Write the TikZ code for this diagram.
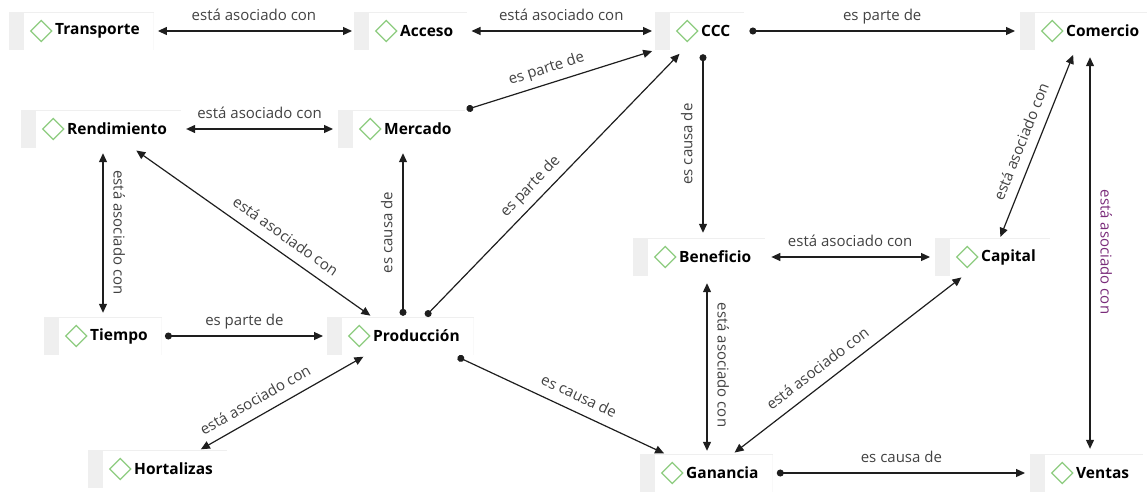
\documentclass[tikz,border=0pt]{standalone}
\usepackage{fontspec}
\setmainfont{Open Sans}
\usepackage{xcolor}
\usetikzlibrary{arrows.meta}

\definecolor{stripegray}{HTML}{EFEFEF}
\definecolor{diamondgreen}{HTML}{8DCC7F}
\definecolor{labelgray}{HTML}{424242}
\definecolor{labelpurple}{HTML}{7A2C7A}
\definecolor{linkgray}{HTML}{1E1E1E}

\begin{document}
\begin{tikzpicture}[x=1pt, y=-1pt, >={Triangle[length=9pt,width=8pt]},
	concept/.style={rectangle, anchor=west, fill=stripegray, minimum height=38pt,
		inner xsep=14pt, inner ysep=0pt, text=black,
		font=\bfseries\fontsize{15.5}{17}\selectfont,
		path picture={
			\fill[white] ([xshift=15pt,yshift=0.5pt]path picture bounding box.south west)
			rectangle ([yshift=-0.5pt]path picture bounding box.north east);
			\draw[diamondgreen, line width=1.3pt] ([xshift=32pt]path picture bounding box.west)
			+(-10.5pt,0) -- +(0,10.5pt) -- +(10.5pt,0) -- +(0,-10.5pt) -- cycle;}},
	link/.style={draw=linkgray, line width=1.2pt, shorten >=4pt, shorten <=4pt},
	dotted link/.style={link, arrows={Circle[length=7pt]-Triangle[length=9pt,width=8pt]}},
	lbl/.style={font=\fontsize{15}{17}\selectfont, text=labelgray, anchor=south,
		inner xsep=0pt, inner ysep=10pt, text depth=0pt}]
	\useasboundingbox (0,0) rectangle (1147,493);

	% concepts
	\node[concept] (transporte) at (9,31) {\hspace*{32pt}Transporte};
	\node[concept] (acceso) at (354,31) {\hspace*{32pt}Acceso};
	\node[concept] (ccc) at (655,31) {\hspace*{32pt}CCC};
	\node[concept] (comercio) at (1020,31) {\hspace*{32pt}Comercio};
	\node[concept] (rendimiento) at (21,129) {\hspace*{32pt}Rendimiento};
	\node[concept] (mercado) at (338,129) {\hspace*{32pt}Mercado};
	\node[concept] (tiempo) at (44,336) {\hspace*{32pt}Tiempo};
	\node[concept] (produccion) at (327,336) {\hspace*{32pt}Producción};
	\node[concept] (hortalizas) at (88,469) {\hspace*{32pt}Hortalizas};
	\node[concept] (beneficio) at (633,257) {\hspace*{32pt}Beneficio};
	\node[concept] (capital) at (935,257) {\hspace*{32pt}Capital};
	\node[concept] (ganancia) at (640,473) {\hspace*{32pt}Ganancia};
	\node[concept] (ventas) at (1030,473) {\hspace*{32pt}Ventas};

	% top row
	\draw[link, <->, shorten >=2pt] (transporte.east) -- (acceso.west)
		node[lbl, midway] {está asociado con};
	\draw[link, <->, shorten >=3pt] (acceso.east) -- (ccc.west)
		node[lbl, midway] {está asociado con};
	\draw[dotted link, shorten <=5pt, shorten >=5pt] (ccc.east) -- (comercio.west)
		node[lbl, midway] {es parte de};

	% left part
	\draw[link, <->, shorten <=5pt, shorten >=5pt] (rendimiento.east) -- (mercado.west)
		node[lbl, midway] {está asociado con};
	\draw[dotted link, shorten <=1pt, shorten >=3pt] (mercado.north east) -- (ccc.south west)
		node[lbl, sloped, pos=0.45] {es parte de};
	\draw[dotted link, shorten <=1pt, shorten >=5pt] ([xshift=98pt]produccion.north west)
		-- ([xshift=28pt]ccc.south west)
		node[lbl, sloped, pos=0.45] {es parte de};
	\draw[dotted link, shorten <=1pt, shorten >=5pt] ([xshift=76pt]produccion.north west)
		-- ([xshift=65pt]mercado.south west)
		node[lbl, midway, rotate=90] {es causa de};
	\draw[link, <->, shorten <=4pt, shorten >=2pt] ([xshift=112pt]rendimiento.south west)
		-- ([xshift=45pt]produccion.north west)
		node[lbl, sloped, pos=0.6] {está asociado con};
	\draw[link, <->, shorten <=5pt, shorten >=4pt] ([xshift=82pt]rendimiento.south west)
		-- ([xshift=59pt]tiempo.north west)
		node[lbl, midway, rotate=-90] {está asociado con};
	\draw[dotted link, shorten <=3pt] (tiempo.east) -- (produccion.west)
		node[lbl, midway] {es parte de};
	\draw[link, <->, shorten <=1pt, shorten >=3pt] ([xshift=112pt]hortalizas.north west)
		-- ([xshift=39pt]produccion.south west)
		node[lbl, sloped, pos=0.38] {está asociado con};
	\draw[dotted link, shorten <=4pt, shorten >=1pt] ([xshift=127pt]produccion.south west)
		-- ([xshift=25pt]ganancia.north west)
		node[lbl, sloped, pos=0.56] {es causa de};

	% right part
	\draw[dotted link, shorten <=4pt, shorten >=5pt] ([xshift=48pt]ccc.south west)
		-- ([xshift=70pt]beneficio.north west)
		node[lbl, midway, rotate=90] {es causa de};
	\draw[link, <->, shorten <=6pt, shorten >=5pt] (beneficio.east) -- (capital.west)
		node[lbl, midway] {está asociado con};
	\draw[link, <->, shorten <=1pt, shorten >=5pt] ([xshift=65pt]capital.north west)
		-- ([xshift=55pt]comercio.south west)
		node[lbl, sloped, pos=0.48] {está asociado con};
	\draw[link, <->, shorten <=7pt, shorten >=5pt] ([xshift=70pt]comercio.south west)
		-- ([xshift=60pt]ventas.north west)
		node[lbl, midway, rotate=-90, text=labelpurple] {está asociado con};
	\draw[link, <->, shorten <=7pt, shorten >=3pt] ([xshift=74pt]beneficio.south west)
		-- ([xshift=67pt]ganancia.north west)
		node[lbl, midway, rotate=-90] {está asociado con};
	\draw[link, <->, shorten <=2pt, shorten >=2pt] ([xshift=93pt]ganancia.north west)
		-- ([xshift=28pt]capital.south west)
		node[lbl, sloped, pos=0.41] {está asociado con};
	\draw[dotted link, shorten <=4pt, shorten >=5pt] (ganancia.east) -- (ventas.west)
		node[lbl, midway] {es causa de};
\end{tikzpicture}
\end{document}
